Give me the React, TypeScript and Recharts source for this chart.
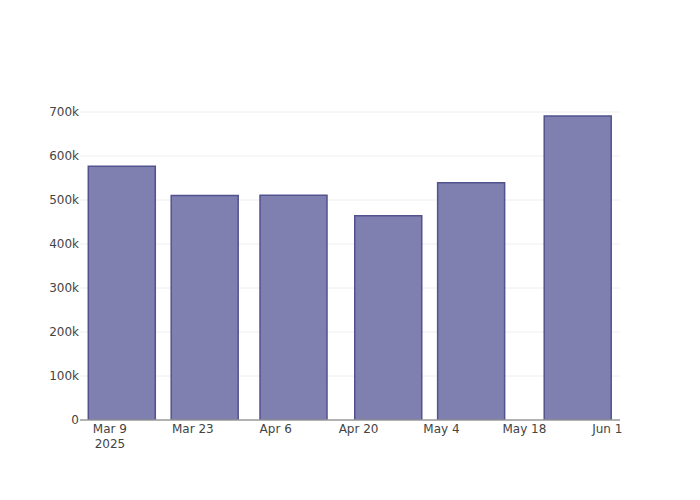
import { BarChart, Bar, XAxis, YAxis, CartesianGrid } from "recharts";

const barDates = ["2025-03-11", "2025-03-25", "2025-04-09", "2025-04-25", "2025-05-09", "2025-05-27"];
const barValues = [577000, 510000, 511000, 464000, 539000, 691000];

const xTickDates = ["2025-03-09", "2025-03-23", "2025-04-06", "2025-04-20", "2025-05-04", "2025-05-18", "2025-06-01"];
const xTickLabels = ["Mar 9", "Mar 23", "Apr 6", "Apr 20", "May 4", "May 18", "Jun 1"];
const yTicks = [0, 100000, 200000, 300000, 400000, 500000, 600000, 700000];

const toTime = (s: string) => new Date(s + "T00:00:00Z").getTime();
const DAY = 86400000;

const data = barDates.map((d, i) => ({ t: toTime(d), value: barValues[i] }));
const xTicks = xTickDates.map(toTime);
const xDomain = [toTime("2025-03-09") - 5.05 * DAY, toTime("2025-03-09") + 86.15 * DAY];

const FONT = "DejaVu Sans";

function DateTick({ x, y, payload }: any) {
  const i = xTicks.indexOf(payload.value);
  const label = i >= 0 ? xTickLabels[i] : "";
  return (
    <g>
      <text x={x} y={y} dy={13} textAnchor="middle" fill="#444" fontSize={12} fontFamily={FONT}>
        {label}
      </text>
      {i === 0 && (
        <text x={x} y={y} dy={28} textAnchor="middle" fill="#444" fontSize={12} fontFamily={FONT}>
          2025
        </text>
      )}
    </g>
  );
}

export default function App() {
  return (
    <div style={{ position: "absolute", left: 0, top: 0, background: "#fff" }}>
      <BarChart
        width={700}
        height={500}
        data={data}
        margin={{ top: 100, right: 80, left: 0, bottom: 50 }}
        style={{ fontFamily: FONT }}
      >
        <CartesianGrid vertical={false} stroke="#eeeeee" horizontalValues={yTicks.slice(1)} />
        <XAxis
          dataKey="t"
          type="number"
          domain={xDomain}
          allowDataOverflow
          ticks={xTicks}
          tick={<DateTick />}
          tickLine={false}
          tickSize={0}
          tickMargin={0}
          height={30}
          axisLine={{ stroke: "#999", strokeWidth: 1.5 }}
          interval={0}
        />
        <YAxis
          domain={[0, 727300]}
          ticks={yTicks}
          allowDataOverflow
          width={80}
          axisLine={false}
          tickLine={false}
          tickSize={0}
          tickMargin={1}
          tick={{ fill: "#444", fontSize: 12, fontFamily: FONT }}
          tickFormatter={(v) => (v === 0 ? "0" : `${v / 1000}k`)}
        />
        <Bar
          dataKey="value"
          barSize={67}
          fill="#7f7fb0"
          stroke="#52528f"
          strokeWidth={1.5}
          isAnimationActive={false}
        />
      </BarChart>
    </div>
  );
}
